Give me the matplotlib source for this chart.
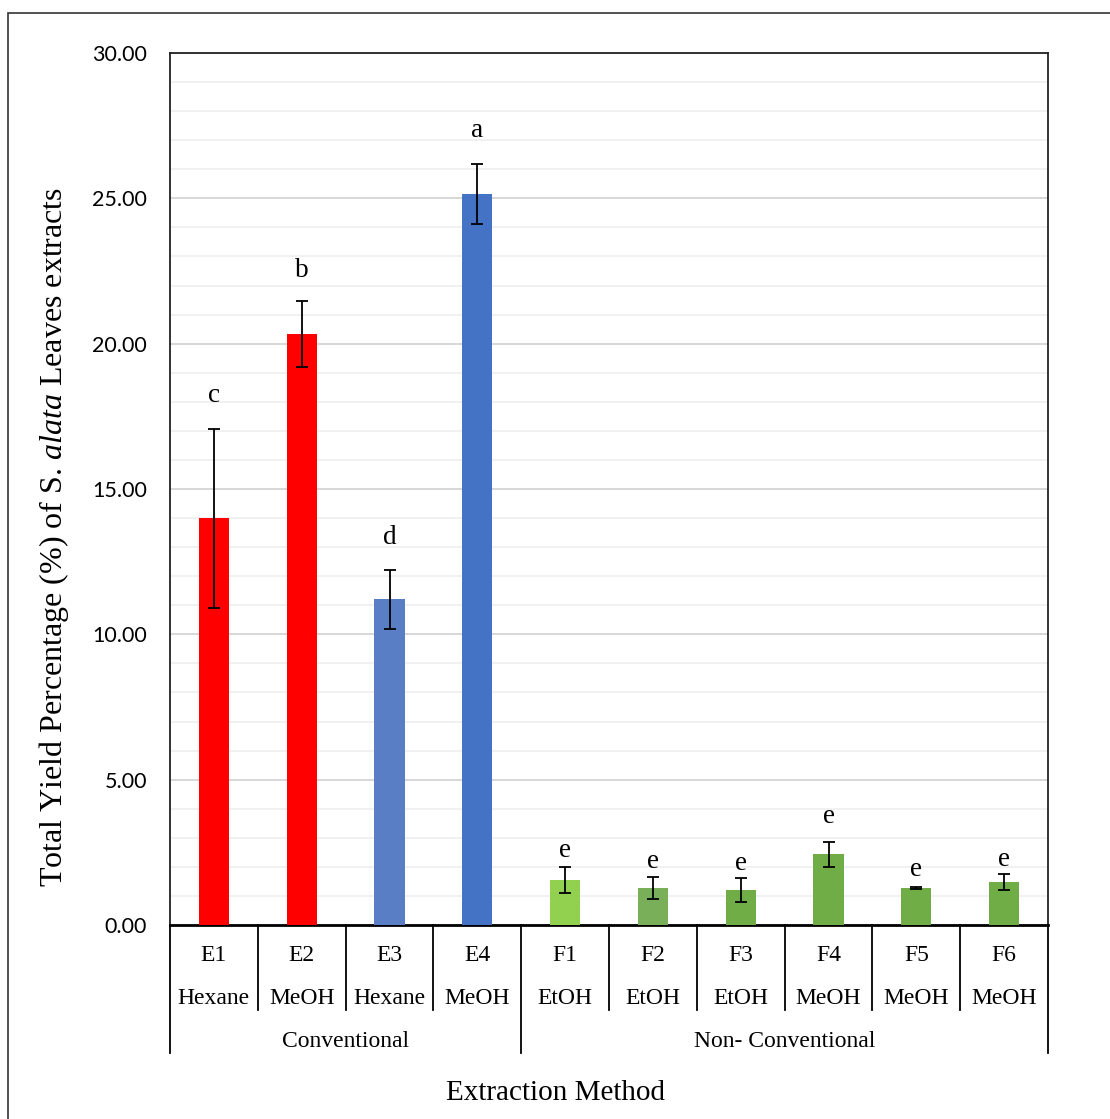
import matplotlib
matplotlib.use("Agg")
import matplotlib.pyplot as plt
from matplotlib.patches import Rectangle
from matplotlib.ticker import MultipleLocator, FormatStrFormatter
import matplotlib.transforms as mtransforms

# ---- data ----
codes = ["E1", "E2", "E3", "E4", "F1", "F2", "F3", "F4", "F5", "F6"]
solvents = ["Hexane", "MeOH", "Hexane", "MeOH", "EtOH", "EtOH", "EtOH", "MeOH", "MeOH", "MeOH"]
groups = ["Conventional", "Non- Conventional"]
group_sizes = [4, 6]
yield_pct = [14.00, 20.33, 11.21, 25.15, 1.55, 1.27, 1.20, 2.44, 1.27, 1.48]
yield_err = [3.08, 1.14, 1.02, 1.03, 0.46, 0.37, 0.41, 0.43, 0.03, 0.29]
letters = ["c", "b", "d", "a", "e", "e", "e", "e", "e", "e"]
y_ticks = [0, 5, 10, 15, 20, 25, 30]

# ---- style ----
bar_colors = ["#FF0000", "#FF0000", "#5A7EC6", "#4472C4",
              "#92D050", "#79AF59", "#70AD47", "#70AD47", "#70AD47", "#70AD47"]
letter_pad_px = [27, 24, 26, 27, 10, 9, 8, 19, 11, 8]
serif = "Liberation Serif"

plt.rcParams["mathtext.fontset"] = "custom"
plt.rcParams["mathtext.rm"] = serif
plt.rcParams["mathtext.it"] = serif + ":italic"

W, H = 1110, 1119
fig = plt.figure(figsize=(W / 100, H / 100), dpi=100)
ax = fig.add_axes([170 / W, 1 - 925 / H, (1048 - 170) / W, (925 - 53) / H])

x = list(range(len(codes)))
ax.bar(x, yield_pct, width=0.342, color=bar_colors, zorder=3)
ax.errorbar(x, yield_pct, yerr=yield_err, fmt="none", ecolor="black",
            elinewidth=1.3, capsize=4.5, capthick=1.3, zorder=4)

for xi, v, e, lab, pad in zip(x, yield_pct, yield_err, letters, letter_pad_px):
    ax.annotate(lab, xy=(xi, v + e), xytext=(0, pad * 0.72), textcoords="offset points",
                ha="center", va="baseline", fontsize=19.5, family=serif, zorder=5)

ax.set_xlim(-0.5, len(codes) - 0.5)
ax.set_ylim(y_ticks[0], y_ticks[-1])
ax.set_yticks(y_ticks)
ax.yaxis.set_major_formatter(FormatStrFormatter("%.2f"))
ax.yaxis.set_minor_locator(MultipleLocator(1))
ax.tick_params(axis="y", which="both", length=0, pad=16.5, labelsize=15.5)
for t in ax.get_yticklabels():
    t.set_family("Lato")
ax.set_xticks([])

ax.grid(axis="y", which="major", color="#D4D4D4", linewidth=1.3, zorder=0)
ax.grid(axis="y", which="minor", color="#EDEDED", linewidth=1.1, zorder=0)
ax.set_axisbelow(True)

for side in ["left", "top", "right"]:
    ax.spines[side].set_color("#222222")
    ax.spines[side].set_linewidth(1.3)
ax.spines["bottom"].set_color("black")
ax.spines["bottom"].set_linewidth(2.0)

# category table under the x axis
trans = mtransforms.blended_transform_factory(ax.transData, ax.transAxes)
row1, row2, row3 = -0.0355, -0.0848, -0.1341
inner_bottom, outer_bottom = -0.0975, -0.1468
for xi, c, s in zip(x, codes, solvents):
    ax.text(xi, row1, c, transform=trans, ha="center", va="center", fontsize=17, family=serif)
    ax.text(xi, row2, s, transform=trans, ha="center", va="center", fontsize=17, family=serif)

outer_edges = [-0.5]
for n in group_sizes:
    outer_edges.append(outer_edges[-1] + n)
for b in range(len(codes) + 1):
    edge = b - 0.5
    y0 = outer_bottom if edge in outer_edges else inner_bottom
    ax.plot([edge, edge], [0, y0], transform=trans, color="black", lw=1.3, clip_on=False)
for g, a, b in zip(groups, outer_edges[:-1], outer_edges[1:]):
    ax.text((a + b) / 2, row3, g, transform=trans, ha="center", va="center",
            fontsize=17, family=serif)

fig.text(0.5, 1 - 1093 / H, "Extraction Method", ha="center", va="center",
         fontsize=21, family=serif)
fig.text(54 / W, 1 - 537 / H,
         r"Total Yield Percentage (%) of S. $\mathit{alata}$ Leaves extracts",
         rotation=90, ha="center", va="center", fontsize=23, family=serif)

# outer chart frame
fig.patches.append(Rectangle((8 / W, -0.1), 1.2, 1 - 13 / H + 0.1, transform=fig.transFigure,
                             fill=False, edgecolor="#333333", linewidth=1.2))

fig.savefig("out.png", dpi=100)
